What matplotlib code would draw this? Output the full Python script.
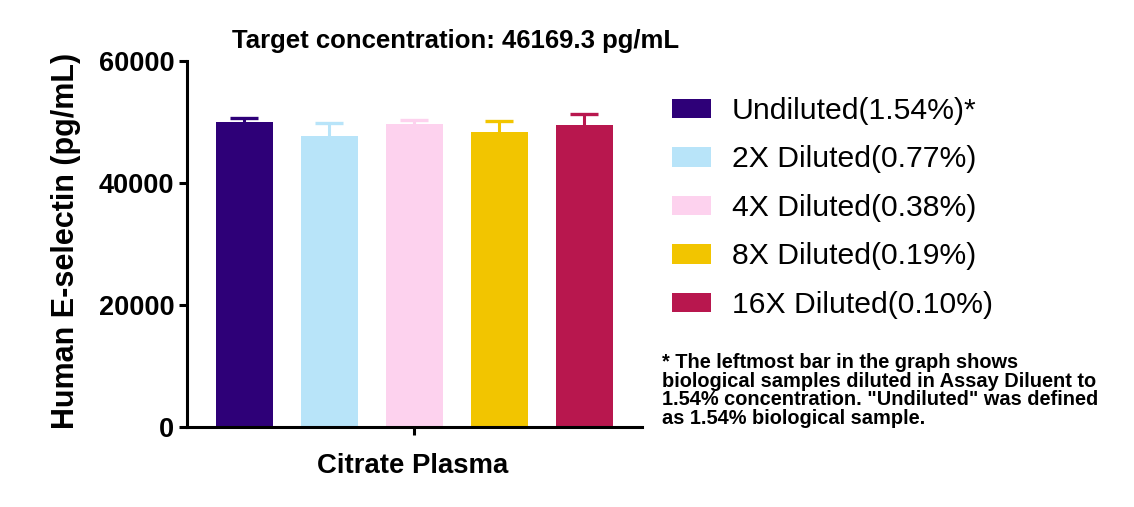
import matplotlib
matplotlib.use("Agg")
import matplotlib.pyplot as plt
import numpy as np

plt.rcParams['font.family'] = ['Liberation Sans', 'DejaVu Sans']

labels = ['Undiluted(1.54%)*', '2X Diluted(0.77%)', '4X Diluted(0.38%)',
          '8X Diluted(0.19%)', '16X Diluted(0.10%)']
means = [50050, 47700, 49670, 48410, 49510]
errs = [650, 2090, 660, 1800, 1850]
colors = ['#2E0078', '#B8E4F9', '#FDD2EE', '#F2C500', '#B8174E']

fig = plt.figure(figsize=(11.34, 5.07), dpi=100)
ax = fig.add_axes([187/1134, 1-427/507, (641.7-187)/1134, 366/507])

x = np.arange(len(means))
for i in range(len(means)):
    ax.bar(x[i], means[i], width=0.67, color=colors[i], label=labels[i], zorder=2)
    eb = ax.errorbar(x[i], means[i], yerr=[[0], [errs[i]]], fmt='none', ecolor=colors[i],
                     elinewidth=2.2, capsize=10, capthick=2.4, zorder=1)
    # only the upper cap is wanted
    for cap in eb[1]:
        if cap.get_ydata()[0] <= means[i]:
            cap.set_visible(False)

ax.set_xlim(-0.674, 4.673)
ax.set_ylim(0, 60000)
ax.set_yticks([0, 20000, 40000, 60000])
ax.set_xticks([2])
ax.set_xticklabels([''])
for s in ['top', 'right']:
    ax.spines[s].set_visible(False)
for s in ['left', 'bottom']:
    ax.spines[s].set_linewidth(2.2)
ax.tick_params(axis='both', width=2.2, length=5.5)
ax.tick_params(axis='y', labelsize=19.5, pad=3.5)
for t in ax.get_yticklabels():
    t.set_fontweight('bold')

ax.set_ylabel('Human E-selectin (pg/mL)', fontsize=22, fontweight='bold')
ax.yaxis.set_label_coords(-0.233, 0.508)
ax.set_xlabel('Citrate Plasma', fontsize=19.8, fontweight='bold')
ax.xaxis.set_label_coords(0.497, -0.071)

fig.text(456/1134, 1-41/507, 'Target concentration: 46169.3 pg/mL',
         ha='center', va='center', fontsize=18.5, fontweight='bold')

fig.legend(loc='upper left', bbox_to_anchor=(672/1134, 1-97/507), frameon=False,
           fontsize=21.7, handlelength=1.29, handleheight=0.63, handletextpad=0.7,
           labelspacing=0.68, borderpad=0, borderaxespad=0)

note = ('* The leftmost bar in the graph shows\n'
        'biological samples diluted in Assay Diluent to\n'
        '1.54% concentration. "Undiluted" was defined\n'
        'as 1.54% biological sample.')
fig.text(662/1134, 1-353/507, note, ha='left', va='top', fontsize=14.4,
         fontweight='bold', linespacing=0.97)

fig.savefig('out.png', dpi=100)
